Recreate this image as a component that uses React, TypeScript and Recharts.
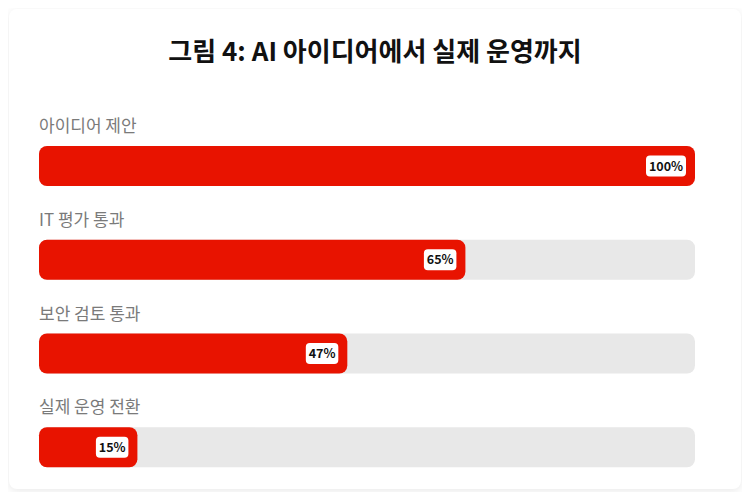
import { Bar, BarChart, LabelList, XAxis, YAxis } from "recharts";

const stages = ["아이디어 제안", "IT 평가 통과", "보안 검토 통과", "실제 운영 전환"];
const shares = [100, 65, 47, 15];

const rows = stages.map((name, i) => ({ name, value: shares[i] }));

const RED = "#e81300";
const FONT = "'Noto Sans CJK KR', 'Noto Sans', sans-serif";

function StageLabel(props: any) {
  const { x, y, value } = props;
  return (
    <text x={x} y={y - 14} fill="#7a7a7a" fontSize={17} fontFamily={FONT}>
      {value}
    </text>
  );
}

function ValueBadge(props: any) {
  const { x, y, width, height, value } = props;
  const text = `${value}%`;
  const w = text.length * 7.5 + 10;
  const h = 21;
  const bx = x + width - 9 - w;
  const by = y + height / 2 - h / 2;
  return (
    <g>
      <rect x={bx} y={by} width={w} height={h} rx={4} fill="#ffffff" />
      <text
        x={bx + w / 2}
        y={by + h / 2 + 4.5}
        textAnchor="middle"
        fontSize={12.5}
        fontWeight={700}
        fontFamily={FONT}
        fill="#111111"
      >
        {text}
      </text>
    </g>
  );
}

export default function App() {
  return (
    <div style={{ position: "relative", width: 734, height: 484 }}>
      <div
        style={{
          position: "absolute",
          left: 1,
          top: 1,
          width: 732,
          height: 480,
          background: "#ffffff",
          borderRadius: 8,
          boxShadow: "0 2px 10px rgba(0,0,0,0.09)",
        }}
      />
      <div
        style={{
          position: "absolute",
          left: 1,
          top: 24,
          width: 732,
          textAlign: "center",
          fontFamily: FONT,
          fontSize: 26,
          fontWeight: 700,
          color: "#111111",
          lineHeight: "36px",
        }}
      >
        그림 4: AI 아이디어에서 실제 운영까지
      </div>
      <div style={{ position: "absolute", left: -8, top: -8 }}>
        <BarChart
          width={750}
          height={500}
          data={rows}
          layout="vertical"
          margin={{ top: 119, right: 55, bottom: 6, left: 39 }}
          barSize={40}
        >
          <XAxis type="number" domain={[0, 100]} hide />
          <YAxis type="category" dataKey="name" hide />
          <Bar
            dataKey="value"
            fill={RED}
            radius={8}
            background={{ fill: "#e8e8e8", radius: 8 }}
            isAnimationActive={false}
          >
            <LabelList dataKey="name" content={StageLabel} />
            <LabelList dataKey="value" content={ValueBadge} />
          </Bar>
        </BarChart>
      </div>
    </div>
  );
}
